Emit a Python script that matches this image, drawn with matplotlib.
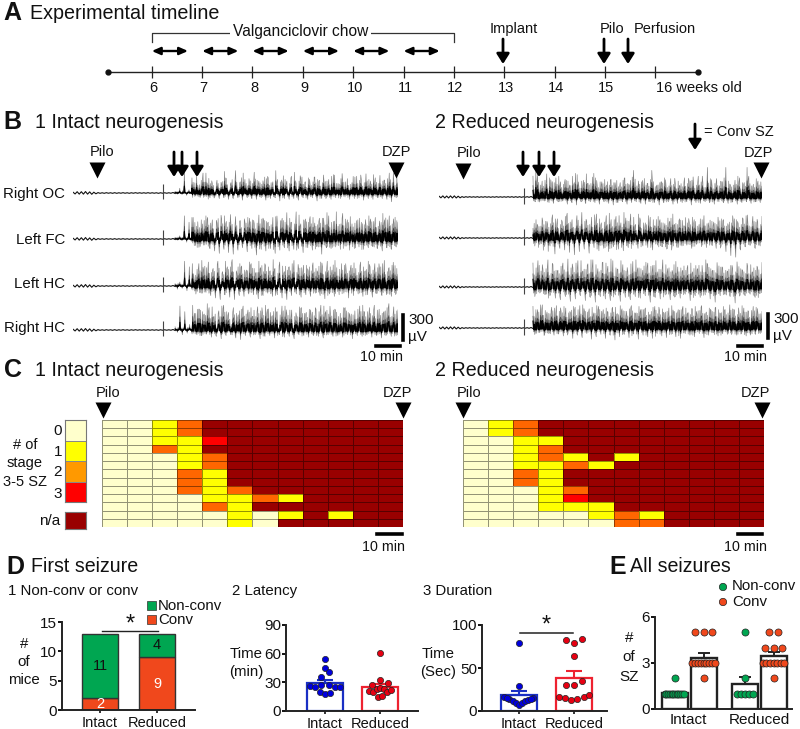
import matplotlib
matplotlib.use('Agg')
import matplotlib.pyplot as plt
import numpy as np
from matplotlib.colors import ListedColormap, BoundaryNorm
from matplotlib.patches import Rectangle

plt.rcParams['font.family'] = ['Liberation Sans', 'DejaVu Sans']

W, H = 800, 729

# A: timeline
weeks = [6, 7, 8, 9, 10, 11, 12, 13, 14, 15, 16]
chow_weeks = [6, 7, 8, 9, 10, 11]

# B: EEG traces, alternating peak / trough in uV
pre_left = [10, -12, 16, -14, 16, -14, 18, -14, 14, -16, 10, -10, 5, -4, 3, -4, 4, -3, 3, -4, 4, -4, 3, -3,
            4, -3, 3, -4, 3, -3, 4, -3, 3, -3, 3, -3, 4, -3, 3, -3, 3, -4, 3, -3, 3, -3, 3, -3, 6, -6]
pre_right = [10, -10, 14, -12, 12, -12, 14, -12, 14, -12, 10, -10, 5, -5, 4, -3, 4, -3, 3, -3, 4, -4, 3, -3,
             4, -3, 3, -4, 3, -3, 4, -3, 3, -3, 3, -3, 4, -3, 4, -4, 4, -4, 4, -4, 3, -3, 4, -4, 6, -6]
blip_intact = [39.0, 110, -70]
blip_reduced = [36.5, 110, -90]

intact_oc = [20, -15, 60, -20, 270, -30, 40, -15, 30, -20, 50, -25, 250, -30, 90, -60, 120, -50, 160, -70, 110, -60,
             180, -80, 130, -70, 280, -60, 140, -90, 170, -60, 120, -70, 260, -80, 150, -60, 110, -90, 190, -70,
             140, -60, 170, -100, 130, -70, 150, -80, 210, -70, 120, -90, 180, -60, 140, -80, 110, -60, 200, -100,
             160, -70, 130, -60, 170, -80, 230, -60, 120, -70, 150, -50, 180, -80, 130, -70, 210, -60, 170, -90,
             240, -70, 150, -80, 190, -60, 220, -70, 160, -80, 250, -110, 120, -60]
intact_fc = [20, -15, 40, -20, 290, -40, 210, -30, 60, -20, 40, -25, 50, -30, 270, -120, 240, -150, 200, -180, 250, -130,
             220, -170, 180, -190, 280, -140, 230, -110, 210, -160, 260, -120, 190, -200, 300, -130, 240, -150,
             210, -120, 270, -180, 180, -140, 260, -110, 330, -150, 210, -130, 340, -120, 190, -170, 250, -110,
             280, -140, 200, -90, 260, -190, 180, -110, 290, -120, 220, -100, 160, -130, 320, -90, 240, -140,
             190, -120, 230, -100, 210, -130, 180, -110, 250, -90, 270, -120, 160, -150, 240, -110, 290, -130, 200, -100]
intact_lhc = [30, -40, 50, -30, 310, -60, 240, -40, 60, -30, 280, -90, 200, -80, 300, -120, 220, -150, 310, -170,
              180, -110, 240, -140, 330, -170, 160, -120, 250, -130, 200, -100, 280, -110, 170, -160, 230, -120,
              260, -90, 190, -130, 220, -110, 300, -150, 180, -170, 240, -120, 320, -100, 210, -140, 260, -110,
              190, -130, 290, -90, 170, -120, 240, -160, 310, -100, 200, -130, 230, -110, 280, -90, 180, -150,
              260, -120, 220, -100, 300, -130, 190, -110, 240, -140, 280, -90, 210, -120, 320, -110, 230, -130, 170, -90]
intact_rhc = [40, -30, 300, -60, 230, -40, 70, -50, 210, -60, 260, -70, 200, -50, 280, -90, 170, -80, 240, -110,
              310, -70, 220, -60, 280, -100, 190, -120, 300, -70, 250, -90, 170, -60, 290, -110, 210, -80, 260, -70,
              180, -100, 230, -60, 300, -90, 200, -80, 250, -110, 170, -60, 280, -70, 220, -90, 190, -70, 260, -80,
              310, -100, 230, -60, 180, -80, 250, -70, 210, -90, 280, -60, 170, -110, 240, -70, 300, -80, 220, -60,
              280, -90, 310, -70, 260, -100, 230, -60, 330, -80, 290, -70]
reduced_oc = [260, -60, 280, -40, 200, -50, 290, -70, 170, -80, 240, -60, 190, -50, 220, -90, 150, -70, 180, -100,
              130, -60, 210, -80, 170, -60, 250, -70, 140, -90, 190, -60, 150, -80, 220, -100, 130, -70, 180, -60,
              240, -90, 140, -70, 160, -60, 200, -80, 130, -90, 170, -60, 210, -70, 150, -100, 190, -70, 120, -60,
              230, -90, 170, -80, 140, -70, 240, -60, 200, -100, 150, -70, 260, -80, 180, -60, 370, -70, 140, -90,
              230, -60, 190, -70, 370, -80, 150, -60, 210, -90, 240, -70, 180, -60, 260, -80, 160, -60, 200, -70]
reduced_fc = [120, -40, 150, -60, 210, -70, 170, -100, 290, -200, 240, -130, 200, -150, 310, -180, 230, -210, 280, -170,
              320, -140, 210, -190, 260, -120, 300, -160, 190, -130, 280, -170, 230, -110, 270, -140, 190, -160,
              250, -120, 300, -90, 170, -130, 220, -100, 190, -120, 260, -150, 150, -90, 230, -110, 180, -130,
              210, -80, 170, -120, 240, -100, 150, -90, 190, -130, 230, -80, 170, -110, 280, -120, 140, -90,
              200, -130, 170, -100, 230, -170, 150, -220, 210, -240, 180, -150, 240, -110, 170, -90, 270, -130, 200, -100]
reduced_lhc = [300, -70, 330, -60, 220, -90, 340, -100, 280, -140, 210, -160, 300, -120, 350, -180, 240, -150, 330, -110,
               200, -170, 290, -130, 340, -190, 230, -120, 310, -150, 260, -170, 330, -100, 220, -180, 280, -130,
               190, -160, 320, -120, 240, -140, 210, -110, 300, -190, 270, -130, 190, -150, 340, -100, 230, -160,
               180, -120, 250, -140, 210, -90, 270, -170, 190, -110, 230, -130, 170, -100, 280, -150, 210, -190,
               160, -110, 240, -90, 200, -120, 230, -200, 170, -100, 210, -110, 260, -90, 190, -130, 240, -80]
reduced_rhc = [270, -60, 230, -50, 290, -80, 200, -60, 260, -90, 280, -70, 210, -100, 250, -60, 190, -130, 260, -90,
               280, -120, 210, -70, 240, -140, 190, -110, 270, -80, 230, -130, 200, -90, 260, -150, 180, -110, 240, -80,
               210, -120, 280, -70, 190, -140, 230, -90, 250, -110, 170, -130, 270, -70, 220, -100, 180, -120, 250, -80,
               200, -110, 230, -130, 270, -70, 190, -90, 240, -110, 170, -70, 280, -120, 200, -90, 220, -60, 260, -100,
               180, -70, 230, -80, 290, -60, 220, -90, 180, -70, 250, -100, 210, -60, 270, -80, 190, -70]
trace_names = ['Right OC', 'Left FC', 'Left HC', 'Right HC']

# C: stage grids, 0 none, 1..3 seizures, 4 n/a
grid_intact = [
    [0, 0, 1, 2, 4, 4, 4, 4, 4, 4, 4, 4],
    [0, 0, 1, 2, 4, 4, 4, 4, 4, 4, 4, 4],
    [0, 0, 1, 1, 3, 4, 4, 4, 4, 4, 4, 4],
    [0, 0, 2, 1, 4, 4, 4, 4, 4, 4, 4, 4],
    [0, 0, 0, 1, 2, 4, 4, 4, 4, 4, 4, 4],
    [0, 0, 0, 1, 2, 4, 4, 4, 4, 4, 4, 4],
    [0, 0, 0, 2, 1, 4, 4, 4, 4, 4, 4, 4],
    [0, 0, 0, 2, 1, 4, 4, 4, 4, 4, 4, 4],
    [0, 0, 0, 2, 1, 2, 4, 4, 4, 4, 4, 4],
    [0, 0, 0, 0, 1, 1, 2, 1, 4, 4, 4, 4],
    [0, 0, 0, 0, 2, 1, 4, 4, 4, 4, 4, 4],
    [0, 0, 0, 0, 0, 1, 0, 1, 4, 1, 4, 4],
    [0, 0, 0, 0, 0, 1, 0, 4, 4, 4, 4, 4],
]
grid_reduced = [
    [0, 1, 2, 4, 4, 4, 4, 4, 4, 4, 4, 4],
    [0, 1, 2, 4, 4, 4, 4, 4, 4, 4, 4, 4],
    [0, 0, 1, 1, 4, 4, 4, 4, 4, 4, 4, 4],
    [0, 0, 1, 2, 4, 4, 4, 4, 4, 4, 4, 4],
    [0, 0, 1, 2, 1, 4, 1, 4, 4, 4, 4, 4],
    [0, 0, 1, 1, 2, 1, 4, 4, 4, 4, 4, 4],
    [0, 0, 2, 1, 4, 4, 4, 4, 4, 4, 4, 4],
    [0, 0, 2, 1, 4, 4, 4, 4, 4, 4, 4, 4],
    [0, 0, 0, 1, 2, 4, 4, 4, 4, 4, 4, 4],
    [0, 0, 0, 1, 3, 4, 4, 4, 4, 4, 4, 4],
    [0, 0, 0, 1, 1, 1, 4, 4, 4, 4, 4, 4],
    [0, 0, 0, 0, 0, 1, 2, 1, 4, 4, 4, 4],
    [0, 0, 0, 0, 0, 0, 2, 2, 4, 4, 4, 4],
]
stage_labels = ['0', '1', '2', '3']

# D1
groups = ['Intact', 'Reduced']
conv_mice = [2, 9]
nonconv_mice = [11, 4]

# D2 latency
lat_mean = [29.5, 25.5]
lat_sem = [3.4, 3.2]
lat_intact = [54.9, 45.1, 40.9, 35.7, 26.6, 25.2, 27, 27, 24.9, 25.2, 20, 17.8, 18.8]
lat_intact_off = [0, 0, .07, -.07, -.27, -.18, -.07, .07, .18, .27, -.085, 0, .085]
lat_reduced = [60.8, 32.2, 27.6, 29.7, 21.3, 19.6, 22.7, 24.1, 23.1, 20.3, 22, 14.7, 16.1]
lat_reduced_off = [0, 0, -.14, .14, -.2, -.13, -.06, 0, .07, .12, .2, -.04, .04]

# D3 duration
dur_mean = [18.3, 38.5]
dur_sem = [5.4, 7.8]
dur_intact = [78.6, 29.6, 16.7, 14, 11.7, 8.9, 7.4, 9.3, 11.7, 12.8, 14.8, 15.6, 13.6]
dur_intact_off = [0, 0, -.27, -.19, -.11, -.05, 0, .05, .11, .16, .25, -.22, .21]
dur_reduced = [82.5, 79.4, 83.7, 63.4, 30.4, 30.7, 35.4, 16.7, 14.8, 12.8, 13.6, 16.7, 18.7]
dur_reduced_off = [-.14, 0, .145, 0, -.14, 0, .145, -.28, -.17, -.06, .06, .175, .28]

# E all seizures
all_mean = [1.05, 3.33, 1.6, 3.43]
all_sem = [0.05, 0.32, 0.5, 0.27]
all_nc_intact = [2, 1, 1, 1, 1, 1, 1, 1, 1, 1, 1, 1, 1]
all_nc_intact_off = [0, -.36, -.3, -.24, -.18, -.12, -.06, 0, .06, .12, .18, .24, .3]
all_c_intact = [5, 5, 5, 3, 3, 3, 3, 3, 3, 3, 3, 3, 2]
all_c_intact_off = [-.3, 0, .3, -.4, -.3, -.2, -.1, 0, .1, .2, .3, .4, 0]
all_nc_reduced = [5, 2, 1, 1, 1, 1, 1]
all_nc_reduced_off = [0, 0, -.3, -.15, 0, .14, .28]
all_c_reduced = [5, 5, 4, 4, 4, 3, 3, 3, 3, 3, 3, 3, 2]
all_c_reduced_off = [-.15, .15, -.3, 0, .3, -.37, -.25, -.13, 0, .12, .25, .37, 0]

GREEN = '#00A651'
CONV = '#F0481C'
BLUE = '#1A2FC4'
RED = '#EE2230'

fig = plt.figure(figsize=(8, 7.29), dpi=100)


def axpx(x0, y0, x1, y1):
    # axes from pixel corners, y counted from the top
    return fig.add_axes([x0 / W, 1 - y1 / H, (x1 - x0) / W, (y1 - y0) / H])


# overlay in pixel coordinates for labels, arrows and scale bars
ov = fig.add_axes([0, 0, 1, 1], zorder=10)
ov.set_xlim(0, W)
ov.set_ylim(H, 0)
ov.axis('off')


def label(x, y, s, size=10.5, ha='center', **kw):
    ov.text(x, y, s, fontsize=size, ha=ha, va='center', color='#111111', **kw)


def down_arrow(x, y0, y1, lw=2):
    ov.annotate('', xy=(x, y1), xytext=(x, y0),
                arrowprops=dict(arrowstyle='-|>,head_width=0.38,head_length=0.6', color='black', lw=lw,
                                shrinkA=0, shrinkB=0))


def wedge(x, y):
    ov.plot([x], [y], marker='v', ms=11.5, color='black', mec='none')


# ---- A ----
label(3, 13, 'A', 18, ha='left', fontweight='bold')
label(30, 13, 'Experimental timeline', 14.2, ha='left')
a = axpx(108, 20, 698, 100)
a.set_xlim(5.13, 16.85)
a.set_ylim(100, 20)
a.axis('off')
a.plot([5.13, 16.85], [72, 72], color='#222222', lw=1)
a.plot([5.13, 16.85], [72, 72], 'o', color='#111111', ms=3.5, clip_on=False)
a.vlines(weeks, 66, 78, color='#222222', lw=0.9)
for w in weeks[:-1]:
    a.text(w + 0.03, 88, str(w), fontsize=10.5, ha='center', va='center', color='#111111')
a.text(16.02, 88, '16 weeks old', fontsize=10.5, ha='left', va='center', color='#111111', clip_on=False)
a.plot([6, 6, 12, 12], [42, 33, 33, 42], color='#333333', lw=0.9)
a.text(8.95, 31.5, 'Valganciclovir chow', fontsize=11.2, ha='center', va='center', color='#111111',
       bbox=dict(fc='white', ec='none', pad=2))
for w in chow_weeks:
    a.annotate('', xy=(w + 0.72, 51), xytext=(w, 51),
               arrowprops=dict(arrowstyle='<|-|>,head_width=0.22,head_length=0.5', color='black', lw=1.7,
                               shrinkA=0, shrinkB=0))
label(514, 29, 'Implant')
label(612, 29, 'Pilo')
label(665, 29, 'Perfusion')
down_arrow(503, 39, 64)
down_arrow(604, 39, 64)
down_arrow(628, 39, 64)

# ---- B ----
label(3, 122, 'B', 18, ha='left', fontweight='bold')
label(35, 122, '1 Intact neurogenesis', 14.1, ha='left')
label(435, 122, '2 Reduced neurogenesis', 14.1, ha='left')


def trace(x0, x1, base, onset, pre, blip, ictal, ramp):
    t = axpx(x0, base - 40, x1, base + 40)
    total = (x1 - x0) / 2.32
    t.set_xlim(0, total)
    t.set_ylim(-500, 500)
    t.axis('off')
    t.plot(np.linspace(0, onset, len(pre)), pre, color='#111111', lw=0.8)
    t.vlines(blip[0], blip[2], blip[1], color='#444444', lw=0.8)
    # the typed peaks are read at a coarse step, weave them with shifted
    # copies of themselves so the band looks as dense as the recording
    vals = np.array(ictal, dtype=float)
    copies = np.column_stack([np.roll(vals, 17), np.roll(vals, 42) * 0.8, np.roll(vals, 67) * 0.9])
    copies[copies < 0] *= 0.7
    copies[:ramp] *= 0.12  # left traces build up slowly after onset
    dense = np.column_stack([vals, copies]).ravel()
    times = np.linspace(onset, total, len(dense))
    t.plot(times, dense, color='#808080', lw=0.45)
    t.plot(times, dense * 0.55, color='#3a3a3a', lw=0.4)
    t.plot(times, dense * 0.32, color='black', lw=0.8)


left_traces = [intact_oc, intact_fc, intact_lhc, intact_rhc]
right_traces = [reduced_oc, reduced_fc, reduced_lhc, reduced_rhc]
for base, vals in zip([193, 239, 286, 330], left_traces):
    trace(73, 398, base, 44, pre_left, blip_intact, vals, 7)
for base, vals in zip([197, 238, 287, 328], right_traces):
    trace(439, 762, base, 40.5, pre_right, blip_reduced, vals, 0)
for y, name in zip([194, 240, 284, 328], trace_names):
    label(65, y, name, 10.8, ha='right')

label(102, 152, 'Pilo')
wedge(97, 170)
label(396, 152, 'DZP')
wedge(396, 170)
for x in [174, 182, 197]:
    down_arrow(x, 152, 177)
label(469, 153, 'Pilo')
wedge(463, 171)
label(758, 153, 'DZP')
wedge(761, 170)
for x in [523, 539, 554]:
    down_arrow(x, 152, 177)
down_arrow(695, 124, 150)
label(704, 132, '= Conv SZ', 10.5, ha='left')

ov.plot([403, 403], [315, 340], color='black', lw=2.6)
label(408, 320, '300', 11, ha='left')
label(408, 337, 'µV', 11, ha='left')
ov.plot([768, 768], [314, 338], color='black', lw=2.6)
label(773, 319, '300', 11, ha='left')
label(773, 336, 'µV', 11, ha='left')
ov.plot([376, 400], [346, 346], color='black', lw=2.6)
label(381, 357, '10 min', 10.3)
ov.plot([738, 762], [346, 346], color='black', lw=2.6)
label(745, 357, '10 min', 10.3)

# ---- C ----
label(4, 370, 'C', 18, ha='left', fontweight='bold')
label(35, 370, '1 Intact neurogenesis', 14.1, ha='left')
label(435, 370, '2 Reduced neurogenesis', 14.1, ha='left')

cmap = ListedColormap(['#FFFFCC', '#FFFF00', '#FF6600', '#FF0000', '#990000'])
norm = BoundaryNorm([-.5, .5, 1.5, 2.5, 3.5, 4.5], 5)
for (x0, x1), grid in zip([(102, 403), (463, 764)], [grid_intact, grid_reduced]):
    h = axpx(x0, 420, x1, 527)
    h.pcolormesh(np.array(grid), cmap=cmap, norm=norm, edgecolors=(0, 0, 0, 0.42), linewidth=0.7)
    h.set_ylim(13, 0)
    h.axis('off')

leg = axpx(65, 420, 86, 502)
leg.pcolormesh([[0], [1], [2], [3]], cmap=ListedColormap(['#FFFFCC', '#FFFF00', '#FF9900', '#FF0000']),
               norm=BoundaryNorm([-.5, .5, 1.5, 2.5, 3.5], 4), edgecolors='#888888', linewidth=0.5)
leg.set_ylim(4, 0)
leg.set_xticks([])
leg.set_yticks([])
na = axpx(65, 512, 86, 529)
na.set_facecolor('#990000')
na.set_xticks([])
na.set_yticks([])
for s in [leg, na]:
    for sp in s.spines.values():
        sp.set_color('#777777')
        sp.set_linewidth(0.8)
for y, s in zip([431, 452, 472, 494], stage_labels):
    label(58, y, s, 11)
label(25, 445, '# of', 10.5)
label(25, 463, 'stage', 10.5)
label(25, 482, '3-5 SZ', 10.5)
label(50, 521, 'n/a', 11)
label(108, 393, 'Pilo')
wedge(103, 410)
label(397, 393, 'DZP')
wedge(403, 410)
label(469, 393, 'Pilo')
wedge(463, 410)
label(755, 393, 'DZP')
wedge(762, 410)
ov.plot([377, 402], [534, 534], color='black', lw=2.6)
label(384, 547, '10 min', 10.3)
ov.plot([738, 762], [534, 534], color='black', lw=2.6)
label(745, 547, '10 min', 10.3)

# ---- D ----
label(6, 567, 'D', 18, ha='left', fontweight='bold')
label(31, 567, 'First seizure', 14.1, ha='left')
label(8, 591, '1 Non-conv or conv', 10.8, ha='left')
label(232, 591, '2 Latency', 10.8, ha='left')
label(423, 591, '3 Duration', 10.8, ha='left')


def style(ax, yticks, xticks, xlabels):
    for s in ['top', 'right']:
        ax.spines[s].set_visible(False)
    for s in ['left', 'bottom']:
        ax.spines[s].set_linewidth(1.4)
        ax.spines[s].set_color('#222222')
    ax.set_yticks(yticks)
    ax.set_xticks(xticks)
    ax.set_xticklabels(xlabels)
    ax.tick_params(axis='y', length=3, width=1.4, labelsize=11, pad=0.5, colors='#111111')
    ax.tick_params(axis='x', length=2, width=1.2, labelsize=10.5, pad=2, colors='#111111')
    ax.patch.set_alpha(0)


pos = [1, 2]
d1 = axpx(62, 622, 195, 710)
d1.bar(pos, conv_mice, width=0.63, color=CONV, edgecolor='#333333', linewidth=1)
d1.bar(pos, nonconv_mice, width=0.63, bottom=conv_mice, color=GREEN, edgecolor='#333333', linewidth=1)
d1.set_xlim(0.333, 2.667)
d1.set_ylim(0, 15)
style(d1, [0, 5, 10, 15], pos, groups)
for x, c, n in zip(pos, conv_mice, nonconv_mice):
    d1.text(x, c / 2, str(c), color='white', fontsize=10.5, ha='center', va='center')
    d1.text(x, c + n / 2, str(n), color='#111111', fontsize=10.5, ha='center', va='center')
d1.plot([1.04, 2.02], [13.5, 13.5], color='#222222', lw=1)
label(130, 625, '*', 17)
for y, s in zip([644, 662, 680], ['#', 'of', 'mice']):
    label(24, y, s, 10.8)
ov.add_patch(Rectangle((147, 601), 8.5, 9, fc=GREEN, ec='#333333', lw=0.5))
ov.add_patch(Rectangle((147, 615), 8.5, 9, fc=CONV, ec='#333333', lw=0.5))
label(158, 606, 'Non-conv', 10.8, ha='left')
label(158, 620, 'Conv', 10.8, ha='left')


def dot_bars(ax, means, sems, pts, offs):
    for i, (x, m, e, col) in enumerate(zip(pos, means, sems, [BLUE, RED])):
        ax.bar(x, m, width=0.65, facecolor='white', edgecolor=col, linewidth=1.6)
        ax.errorbar(x, m, yerr=[[0], [e]], color=col, capsize=6, capthick=1.5, elinewidth=1.5)
        ax.scatter(x + np.array(offs[i]), pts[i], s=20, color=['#0000DD', '#E60012'][i],
                   edgecolor='#222222', linewidth=0.5, zorder=3, clip_on=False)


d2 = axpx(286, 625, 418, 711)
dot_bars(d2, lat_mean, lat_sem, [lat_intact, lat_reduced], [lat_intact_off, lat_reduced_off])
d2.set_xlim(0.29, 2.69)
d2.set_ylim(0, 90)
style(d2, [0, 30, 60, 90], pos, groups)
label(246, 654, 'Time', 10.8)
label(246, 672, '(min)', 10.8)

d3 = axpx(482, 625, 607, 711)
dot_bars(d3, dur_mean, dur_sem, [dur_intact, dur_reduced], [dur_intact_off, dur_reduced_off])
d3.set_xlim(0.327, 2.6)
d3.set_ylim(0, 100)
style(d3, [0, 50, 100], pos, groups)
d3.plot([1.02, 1.98], [90.7, 90.7], color='#222222', lw=1.1)
label(546, 626, '*', 17)
label(438, 654, 'Time', 10.8)
label(438, 672, '(Sec)', 10.8)

# ---- E ----
label(609, 567, 'E', 18, ha='left', fontweight='bold')
label(630, 567, 'All seizures', 14.1, ha='left')
e = axpx(655, 617, 792, 709)
e_pos = [1, 2, 3.456, 4.456]
e.bar(e_pos, all_mean, width=0.91, facecolor='white', edgecolor='#222222', linewidth=1.7)
for x, m, s in zip(e_pos, all_mean, all_sem):
    e.errorbar(x, m, yerr=[[0], [s]], color='#222222', capsize=4.6, capthick=1.4, elinewidth=1.4)
e_pts = [all_nc_intact, all_c_intact, all_nc_reduced, all_c_reduced]
e_off = [all_nc_intact_off, all_c_intact_off, all_nc_reduced_off, all_c_reduced_off]
for x, p, o, c in zip(e_pos, e_pts, e_off, [GREEN, CONV, GREEN, CONV]):
    e.scatter(x + np.array(o), p, s=26, color=c, edgecolor='#222222', linewidth=0.5, zorder=3, clip_on=False)
e.set_xlim(0.3, 5.1)
e.set_ylim(0, 6)
style(e, [0, 3, 6], [1.45, 3.95], groups)
e.tick_params(axis='x', length=0, labelsize=11, pad=3)
for y, s in zip([638, 657, 677], ['#', 'of', 'SZ']):
    label(629, y, s, 11)
ov.scatter([723, 723], [587, 602], s=28, color=[GREEN, CONV], edgecolor='#222222', linewidth=0.5)
label(732, 586, 'Non-conv', 10.8, ha='left')
label(732, 602, 'Conv', 10.8, ha='left')

fig.savefig('out.png', dpi=100)
